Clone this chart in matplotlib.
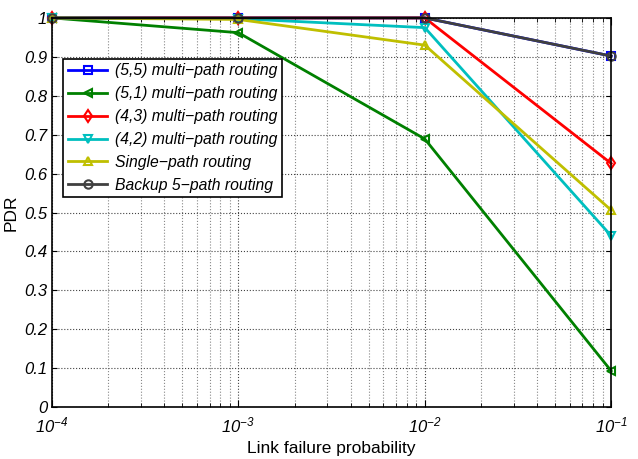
import matplotlib
matplotlib.use("Agg")
import matplotlib.pyplot as plt
import numpy as np

# DATA
link_fail = [1e-4, 1e-3, 1e-2, 1e-1]
pdr_55 = [1.0, 1.0, 1.0, 0.902]
pdr_51 = [1.0, 0.962, 0.689, 0.093]
pdr_43 = [1.0, 1.0, 1.0, 0.626]
pdr_42 = [1.0, 0.998, 0.975, 0.440]
pdr_single = [1.0, 0.996, 0.930, 0.506]
pdr_backup = [1.0, 1.0, 1.0, 0.902]

labels = ["(5,5) multi\u2212path routing", "(5,1) multi\u2212path routing",
          "(4,3) multi\u2212path routing", "(4,2) multi\u2212path routing",
          "Single\u2212path routing", "Backup 5\u2212path routing"]
y_ticks = [0, 0.1, 0.2, 0.3, 0.4, 0.5, 0.6, 0.7, 0.8, 0.9, 1]
y_tick_labels = ["0", "0.1", "0.2", "0.3", "0.4", "0.5", "0.6", "0.7", "0.8", "0.9", "1"]

plt.rcParams['font.family'] = ['Liberation Sans', 'DejaVu Sans']

fig = plt.figure(figsize=(6.38, 4.59), dpi=100)
ax = fig.add_axes([0.0815, 0.113, 0.8765, 0.848])

series = [pdr_55, pdr_51, pdr_43, pdr_42, pdr_single, pdr_backup]
colors = ['#0000ff', '#008000', '#ff0000', '#00bfbf', '#bfbf00', '#404040']
markers = ['s', '<', 'd', 'v', '^', 'o']
for vals, lab, c, m in zip(series, labels, colors, markers):
    ax.plot(link_fail, vals, color=c, marker=m, markersize=6, markerfacecolor='none',
            markeredgewidth=1.5, linewidth=2, label=lab, clip_on=False)

ax.set_xscale('log')
ax.set_xlim(1e-4, 1e-1)
ax.set_ylim(0, 1)
ax.set_yticks(y_ticks)
ax.set_yticklabels(y_tick_labels, fontstyle='italic', fontsize=12)
ax.tick_params(axis='both', which='both', direction='in', top=True, right=True, labelsize=12)
ax.tick_params(axis='x', which='major', length=5, pad=6)
ax.tick_params(axis='x', which='minor', length=3)
for t in ax.get_xticklabels():
    t.set_fontstyle('italic')
ax.grid(True, which='major', linestyle=':', color='#444444', linewidth=0.8)
ax.grid(True, which='minor', axis='x', linestyle=':', color='#888888', linewidth=0.8)
for s in ax.spines.values():
    s.set_linewidth(1.2)

ax.set_xlabel("Link failure probability", fontsize=12.5)
ax.set_ylabel("PDR", fontsize=12.5)

leg = ax.legend(loc='upper left', bbox_to_anchor=(0.02, 0.895), fancybox=False,
                framealpha=1, edgecolor='black', borderpad=0.3, labelspacing=0.5,
                handlelength=2.5, handletextpad=0.5, borderaxespad=0,
                prop={'style': 'italic', 'size': 11.3})
leg.get_frame().set_linewidth(1.2)

fig.savefig("out.png", dpi=100)
